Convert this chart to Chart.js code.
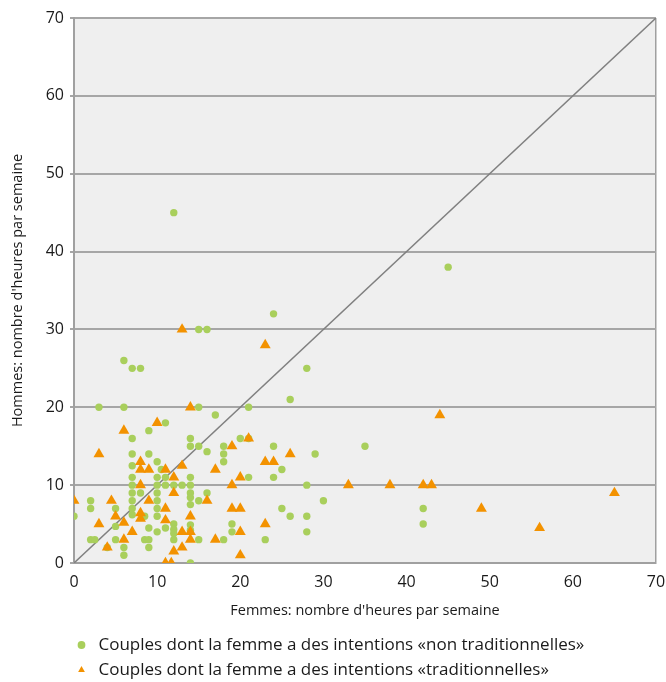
<!DOCTYPE html>
<html><head><meta charset="utf-8">
<script src="https://cdn.jsdelivr.net/npm/chart.js@4.4.1/dist/chart.umd.min.js"></script>
<style>html,body{margin:0;padding:0;background:#fff;}#wrap{width:666px;height:682px;}</style>
</head><body><div id="wrap"><canvas id="c" width="666" height="682"></canvas></div>
<script>
const seriesLabels = ['Couples dont la femme a des intentions «non traditionnelles»', 'Couples dont la femme a des intentions «traditionnelles»'];
const xTitle = "Femmes: nombre d'heures par semaine";
const yTitle = "Hommes: nombre d'heures par semaine";
const xTickLabels = ['0','10','20','30','40','50','60','70'];
const yTickLabels = ['0','10','20','30','40','50','60','70'];

const nonTradX = [0, 2,2,2,2.5, 3, 4, 5,5,5, 6,6,6,6, 7,7,7,7,7,7,7,7,7,7, 8,8,8.5,8.5, 9,9,9,9,9, 10,10,10,10,10,10,10,10, 10.5, 11,11,11,11, 12,12,12,12,12,12, 13, 14,14,14,14,14,14,14,14,14,14, 15,15,15,15,15, 16,16,16, 17, 18,18,18,18, 19,19, 20, 21,21,21, 23, 24,24,24, 25,25, 26,26, 28,28,28,28, 29, 30, 35, 42,42, 45];
const nonTradY = [6, 8,7,3,3, 20, 2, 7,4.7,3, 26,20,2,1, 25,16,14,12.5,11,10,9,8,7,6.2, 25,9,6,3, 17,14,4.5,3,2, 13,11,10,9,8,7,6,4, 12, 18,11,10,4.5, 45,10,5,4.3,3.8,3, 10, 16,15,11,10,9,8.4,7.5,4.9,4.2,0, 30,20,15,8,3, 30,14.3,9, 19, 15,14,13,3, 5,4, 16, 20,16,11, 3, 32,15,11, 12,7, 21,6, 25,10,6,4, 14, 8, 15, 7,5, 38];

const tradX = [0, 3,3, 4, 4.5, 5, 6,6,6, 7, 8,8,8,8,8, 9,9, 10, 11,11,11,11, 11.7, 12,12,12, 13,13,13,13, 14,14,14,14, 16, 17,17, 19,19,19, 20,20,20,20, 21, 23,23,23, 24, 26, 33, 38, 42, 43, 44, 49, 56, 65];
const tradY = [8, 14,5, 2, 8, 6, 17,5.2,3, 4, 13,12,10,6.4,5.7, 12,8, 18, 12,7,5.5,0, 0, 11,9,1.5, 30,12.5,4,2, 20,6,4,3, 8, 12,3, 15,10,7, 11,7,4,1, 16, 28,13,5, 13, 14, 10, 10, 10, 10, 19, 7, 4.5, 9];

const diagonalX = [0, 70];
const diagonalY = [0, 70];

const toPoints = (xs, ys) => xs.map((x, i) => ({x: x, y: ys[i]}));

const FONT = "'Open Sans', 'DejaVu Sans', sans-serif";
const TEXT = '#1a1a1a';
const GRID = '#a6a6a6';

const plotBg = {
  id: 'plotBg',
  beforeDraw(chart) {
    const a = chart.chartArea, ctx = chart.ctx;
    ctx.save(); ctx.fillStyle = '#efefef';
    ctx.fillRect(a.left, a.top, a.right - a.left, a.bottom - a.top);
    ctx.restore();
  }
};
const legendShift = {
  id: 'legendShift',
  afterLayout(chart) {
    const lg = chart.legend; if (!lg) return;
    lg.left += 65; lg.right += 65; lg.top += 6.5; lg.bottom += 6.5;
  }
};

new Chart(document.getElementById('c'), {
  data: {
    datasets: [
      { type: 'scatter', label: seriesLabels[0], data: toPoints(nonTradX, nonTradY),
        pointStyle: 'circle', pointRadius: 3.7, pointHoverRadius: 3.7,
        backgroundColor: '#a9cf5c', borderColor: '#a9cf5c', borderWidth: 0, order: 2 },
      { type: 'scatter', label: seriesLabels[1], data: toPoints(tradX, tradY),
        pointStyle: 'triangle', pointRadius: 6.3, pointHoverRadius: 6.3,
        backgroundColor: '#f39200', borderColor: '#f39200', borderWidth: 0, order: 1 },
      { type: 'line', label: 'diag', data: toPoints(diagonalX, diagonalY),
        borderColor: '#808080', borderWidth: 1.5, pointRadius: 0, fill: false, order: 3 }
    ]
  },
  options: {
    responsive: false, animation: false,
    layout: { padding: { left: 0, right: 10, top: 18, bottom: 0 } },
    scales: {
      x: {
        type: 'linear', min: 0, max: 70,
        ticks: { stepSize: 10, padding: 10, color: TEXT, font: { family: FONT, size: 16 },
                 callback: (v, i) => xTickLabels[i] },
        grid: { drawTicks: false, lineWidth: 1.5,
                color: c => (c.tick && c.tick.value === 70) ? '#a0a0a0' : 'rgba(0,0,0,0)' },
        border: { display: true, color: '#a0a0a0', width: 2 },
        title: { display: true, text: xTitle, color: TEXT, font: { family: FONT, size: 14.5 },
                 padding: { top: 0, bottom: 2 } },
        afterFit: s => { s.height = 59; s.paddingLeft = 0; s.paddingRight = 0; }
      },
      y: {
        min: 0, max: 70,
        ticks: { stepSize: 10, padding: 6, color: TEXT, font: { family: FONT, size: 16 },
                 callback: (v, i) => yTickLabels[i] },
        grid: { color: GRID, lineWidth: 2, tickLength: 4, drawTicks: true },
        border: { display: true, color: '#a0a0a0', width: 2 },
        title: { display: true, text: yTitle, color: TEXT, font: { family: FONT, size: 14.5 },
                 padding: { top: 9, bottom: 0 } },
        afterFit: s => { s.width = 74; s.paddingTop = 0; s.paddingBottom = 0; }
      }
    },
    plugins: {
      tooltip: { enabled: false },
      legend: {
        position: 'bottom', align: 'start',
        labels: {
          usePointStyle: true, boxWidth: 17, boxHeight: 5.5, padding: 8,
          color: TEXT, font: { family: FONT, size: 17 },
          filter: item => item.datasetIndex < 2,
          sort: (a, b) => a.datasetIndex - b.datasetIndex
        }
      }
    }
  },
  plugins: [plotBg, legendShift]
});
</script>
</body></html>
